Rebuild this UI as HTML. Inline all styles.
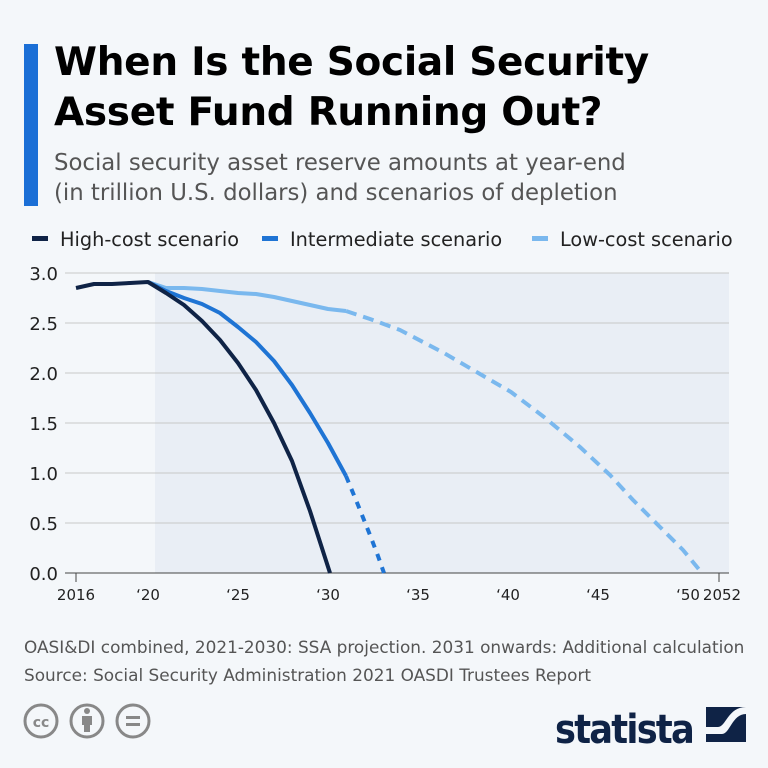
<!DOCTYPE html>
<html><head><meta charset="utf-8"><style>
body{margin:0;width:768px;height:768px;background:#f4f7fa;font-family:"DejaVu Sans",sans-serif;overflow:hidden;position:relative}
.bar{position:absolute;left:24px;top:44px;width:14px;height:162px;background:#1b6fd6}
h1{position:absolute;left:54px;top:38px;margin:0;font-size:39px;line-height:50px;font-weight:bold;color:#000;letter-spacing:-0.3px;white-space:nowrap}
.sub{position:absolute;left:54px;top:148px;font-size:22.8px;line-height:30px;color:#555;white-space:nowrap}
.foot{position:absolute;left:24px;top:633px;font-size:16.9px;line-height:28px;color:#555;white-space:nowrap}
</style></head><body>
<div class="bar"></div>
<h1>When Is the Social Security<br>Asset Fund Running Out?</h1>
<div class="sub">Social security asset reserve amounts at year-end<br>(in trillion U.S. dollars) and scenarios of depletion</div>
<svg width="768" height="768" style="position:absolute;left:0;top:0" font-family="DejaVu Sans,sans-serif">
<g font-size="19.3" fill="#222">
<rect x="32" y="236" width="16" height="5" fill="#0f2346"/><text x="60" y="246">High-cost scenario</text>
<rect x="262" y="236" width="16" height="5" fill="#1f74d4"/><text x="290" y="246">Intermediate scenario</text>
<rect x="532" y="236" width="16" height="5" fill="#7ab8ee"/><text x="560" y="246">Low-cost scenario</text>
</g>
<rect x="155" y="273" width="574" height="300" fill="#e9eef5"/>
<g stroke="#c8c8c8" stroke-width="1">
<line x1="65" x2="729" y1="273" y2="273"/><line x1="65" x2="729" y1="323" y2="323"/><line x1="65" x2="729" y1="373" y2="373"/><line x1="65" x2="729" y1="423" y2="423"/><line x1="65" x2="729" y1="473" y2="473"/><line x1="65" x2="729" y1="523" y2="523"/>
</g>
<line x1="65" x2="729" y1="573" y2="573" stroke="#444"/>
<line x1="76" x2="76" y1="573" y2="582" stroke="#444"/>
<line x1="719" x2="719" y1="573" y2="582" stroke="#444"/>
<g font-size="18" fill="#222" text-anchor="end">
<text x="58" y="280">3.0</text><text x="58" y="330">2.5</text><text x="58" y="380">2.0</text><text x="58" y="430">1.5</text><text x="58" y="480">1.0</text><text x="58" y="530">0.5</text><text x="58" y="580">0.0</text>
</g>
<g font-size="15" fill="#222" text-anchor="middle">
<text x="76" y="600">2016</text><text x="148" y="600">‘20</text><text x="238" y="600">‘25</text><text x="328" y="600">‘30</text><text x="418" y="600">‘35</text><text x="508" y="600">‘40</text><text x="598" y="600">‘45</text><text x="688" y="600">‘50</text><text x="722" y="600">2052</text>
</g>
<g fill="none" stroke-width="4" stroke-linejoin="round">
<polyline stroke="#7ab8ee" points="148,282 166,288 184,288 202,289 220,291 238,293 256,294 274,297 292,301 310,305 328,309 346,311"/>
<polyline stroke="#7ab8ee" stroke-dasharray="11,7" points="346,311 370,319 400,330 444,353 480,374 511,392 544,417 580,447 610,475 633,500 660,527 683,550 702,573"/>
<polyline stroke="#1f74d4" points="148,282 166,291 184,298 202,304 220,313 238,327 256,342 274,361 292,385 310,413 328,443 346,476"/>
<polyline stroke="#1f74d4" stroke-dasharray="7,7" points="346,476 358,505 370,535 378,556 384,573"/>
<polyline stroke="#0f2346" points="76,288 94,284 112,284 130,283 148,282 166,293 184,305 202,321 220,340 238,363 256,390 274,423 292,461 310,511 330,573"/>
</g>
<g fill="none" stroke="#888" stroke-width="3">
<circle cx="41" cy="721" r="16"/><circle cx="87" cy="721" r="16"/><circle cx="133" cy="721" r="16"/>
</g>
<text x="41" y="727" font-size="14" font-weight="bold" fill="#888" text-anchor="middle">cc</text>
<circle cx="87" cy="711" r="3" fill="#888"/><rect x="82" y="716" width="10" height="9" fill="#888"/><rect x="84" y="724" width="6" height="8" fill="#888"/>
<rect x="126" y="716" width="14" height="3" fill="#888"/><rect x="126" y="723" width="14" height="3" fill="#888"/>
<text x="555" y="743" font-size="40" font-weight="bold" fill="#0f2346" letter-spacing="-2" textLength="138" lengthAdjust="spacingAndGlyphs">statista</text>
<rect x="706" y="707" width="40" height="35" fill="#0f2346"/>
<path d="M706,734 L722,734 C730,734 732,714 746,714 L746,707 C728,707 726,727 718,727 L706,727 Z" fill="#f4f7fa"/>
</svg>
<div class="foot">OASI&amp;DI combined, 2021-2030: SSA projection. 2031 onwards: Additional calculation<br>Source: Social Security Administration 2021 OASDI Trustees Report</div>
</body></html>
